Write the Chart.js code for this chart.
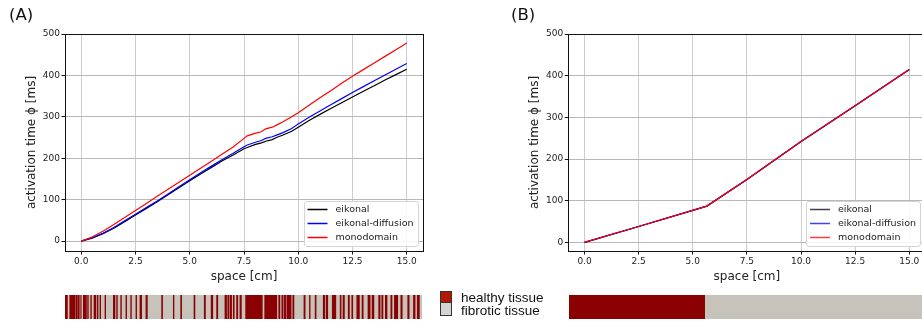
<!DOCTYPE html>
<html>
<head>
<meta charset="utf-8">
<script src="https://cdn.jsdelivr.net/npm/chart.js@4.4.0/dist/chart.umd.min.js"></script>
<style>
  html, body { margin: 0; padding: 0; background: #fff; overflow: hidden; }
  #wrap { position: relative; width: 922px; height: 324px; overflow: hidden; font-family: 'DejaVu Sans', sans-serif; }
  canvas { position: absolute; }
  .panel { position: absolute; top: 5px; font-size: 16.5px; color: #111; }
  .tl { position: absolute; font-family: 'Liberation Sans', Arial, sans-serif; font-size: 13.5px; color: #111; line-height: 13px; }
  .sq { position: absolute; left: 440px; width: 10px; border: 1px solid #333; }
</style>
</head>
<body>
<div id="wrap">
  <canvas id="chartA" width="460" height="290" style="left:0;top:0"></canvas>
  <canvas id="chartB" width="500" height="290" style="left:460px;top:0"></canvas>
  <canvas id="tissueA" width="460" height="36" style="left:0;top:288px"></canvas>
  <canvas id="tissueB" width="500" height="36" style="left:460px;top:288px"></canvas>

  <div class="panel" style="left:9px">(A)</div>
  <div class="panel" style="left:511px">(B)</div>

  <div class="sq" style="top:291px;height:10px;background:#b41800"></div>
  <div class="sq" style="top:302px;height:12px;background:#d4d4d4"></div>
  <div class="tl" style="left:461px;top:291px">healthy tissue</div>
  <div class="tl" style="left:461px;top:304px">fibrotic tissue</div>
</div>

<script>
// (A) fibrotic patchy tissue
const spaceA = [0, 0.5, 1, 1.5, 2, 2.5, 3, 3.5, 4, 4.5, 5, 5.5, 6, 6.5, 7, 7.5, 7.65, 8, 8.3, 8.5, 8.8, 9, 9.3, 9.7,
                10, 10.5, 11, 11.5, 12, 12.5, 13, 13.5, 14, 14.5, 15];
const eikonalA = [0, 7, 18, 31, 47, 63, 79, 95, 112, 129, 146, 162, 178, 194, 208, 223, 226, 233, 237, 241, 245, 250, 256, 265,
                  275, 291, 306, 320, 334, 348, 362, 375, 389, 402, 415];
const diffusionA = [0, 8, 19, 33, 49, 65, 81, 97, 114, 131, 148, 165, 181, 197, 212, 228, 232, 238, 243, 248, 252, 256, 262, 272,
                    283, 299, 314, 329, 344, 359, 373, 387, 401, 415, 429];
const monodomainA = [0, 10, 24, 40, 57, 74, 91, 108, 125, 142, 159, 176, 193, 210, 227, 248, 254, 260, 264, 271, 275, 280, 288, 300,
                     310, 328, 346, 363, 381, 398, 414, 430, 446, 462, 478];

// (B) healthy block followed by fibrotic block
const spaceB = [0, 2.5, 5.65, 7.5, 10, 12.5, 15];
const eikonalB = [0, 38, 87, 151, 242, 328, 415];
const diffusionB = [0, 38, 87, 151, 242, 328, 415];
const monodomainB = [0, 38, 87, 151, 242, 328, 415];

const seriesNames = ['eikonal', 'eikonal-diffusion', 'monodomain'];
const xTicks = [0, 2.5, 5, 7.5, 10, 12.5, 15];
const yTicks = [0, 100, 200, 300, 400, 500];

// healthy tissue segments [start, end] in cm; the rest is fibrotic
const tissueLength = 15;
const healthyA = [
  [0.01, 0.10], [0.20, 0.43], [0.47, 0.52], [0.56, 0.60], [0.66, 0.68], [0.77, 0.90], [0.95, 0.98], [1.08, 1.11],
  [1.22, 1.30], [1.36, 1.39], [1.47, 1.50], [1.68, 1.71], [2.03, 2.10], [2.17, 2.20], [2.34, 2.37], [2.56, 2.59],
  [2.76, 2.79], [2.98, 3.01], [3.15, 3.22], [3.40, 3.46], [4.06, 4.10], [4.55, 4.58], [4.86, 4.90], [5.42, 5.46],
  [5.85, 5.90], [6.14, 6.21], [6.37, 6.42], [6.72, 6.79], [6.84, 6.88], [6.93, 7.00], [7.07, 7.11], [7.21, 7.26],
  [7.35, 7.41], [7.59, 8.29], [8.39, 8.90], [8.98, 9.03], [9.11, 9.15], [9.20, 9.27], [9.32, 9.50], [9.57, 9.62],
  [10.04, 10.09], [10.27, 10.30], [10.51, 10.55], [10.85, 10.91], [10.97, 11.04], [11.23, 11.38], [11.56, 11.60],
  [11.68, 11.74], [11.90, 11.95], [12.05, 12.09], [12.26, 12.37], [12.48, 12.53], [12.73, 12.82], [12.90, 12.98],
  [13.18, 13.24], [13.31, 13.36], [13.46, 13.53], [13.69, 13.74], [13.84, 13.98], [14.11, 14.17], [14.40, 14.46],
  [14.64, 14.71], [14.80, 14.89]
];
const healthyB = [[0, 5.7]];

Chart.defaults.font.family = "'DejaVu Sans', sans-serif";
Chart.defaults.color = '#222';

// black box round the plot area, like the matplotlib spines
const frame = {
  id: 'frame',
  afterDraw(chart) {
    const a = chart.chartArea;
    const ctx = chart.ctx;
    ctx.save();
    ctx.strokeStyle = '#111';
    ctx.lineWidth = 1;
    ctx.strokeRect(Math.round(a.left) + 0.5, Math.round(a.top) + 0.5,
                   Math.round(a.right - a.left), Math.round(a.bottom - a.top));
    ctx.restore();
  }
};

// legend drawn inside the plot area, lower right
const innerLegend = {
  id: 'innerLegend',
  afterDraw(chart, args, opts) {
    const a = chart.chartArea;
    const ctx = chart.ctx;
    const w = 114, h = 45;
    const left = a.right - 5.5 - w;
    const top = a.bottom - 5 - h;
    ctx.save();
    ctx.fillStyle = 'rgba(255,255,255,0.85)';
    ctx.strokeStyle = '#d4d4d4';
    ctx.lineWidth = 1;
    ctx.beginPath();
    ctx.roundRect(Math.round(left) + 0.5, Math.round(top) + 0.5, w, h, 2.5);
    ctx.fill();
    ctx.stroke();
    ctx.font = "9.5px 'DejaVu Sans'";
    ctx.textBaseline = 'middle';
    chart.data.datasets.forEach((ds, i) => {
      const y = Math.round(top) + 8.5 + i * 14;
      ctx.globalAlpha = opts.swatchAlpha || 1;
      ctx.strokeStyle = ds.borderColor;
      ctx.lineWidth = 1.5;
      ctx.beginPath();
      ctx.moveTo(left + 4, y);
      ctx.lineTo(left + 24, y);
      ctx.stroke();
      ctx.globalAlpha = 1;
      ctx.fillStyle = '#222';
      ctx.fillText(ds.label, left + 32, y + 0.5);
    });
    ctx.restore();
  }
};

function points(xs, ys) {
  return xs.map((x, i) => ({ x: x, y: ys[i] }));
}

function plotActivation(id, xs, series, yMin, yAxisWidth, yTitlePad, rightPad, swatchAlpha) {
  const colors = ['#000000', '#0000ff', '#ff0000'];
  new Chart(document.getElementById(id), {
    type: 'line',
    data: {
      datasets: series.map((ys, i) => ({
        label: seriesNames[i],
        data: points(xs, ys),
        borderColor: colors[i],
        borderWidth: 1.2,
        pointRadius: 0,
        tension: 0,
        order: 2 - i
      }))
    },
    options: {
      responsive: false,
      animation: false,
      layout: { padding: { left: 0, top: 34, right: rightPad, bottom: 0 } },
      plugins: {
        legend: { display: false },
        tooltip: { enabled: false },
        innerLegend: { swatchAlpha: swatchAlpha }
      },
      scales: {
        x: {
          type: 'linear', min: -0.75, max: 15.75,
          afterBuildTicks: s => { s.ticks = xTicks.map(v => ({ value: v })); },
          afterFit: s => { s.height = 39; },
          grid: { color: '#cdcdcd', lineWidth: 1, tickColor: '#111', tickLength: 3.5 },
          border: { display: false },
          ticks: { font: { size: 9 }, padding: 1.5, maxRotation: 0, callback: v => v.toFixed(1) },
          title: { display: true, text: 'space [cm]', font: { size: 12 }, padding: { top: 0, bottom: 6 } }
        },
        y: {
          min: yMin, max: 500,
          afterBuildTicks: s => { s.ticks = yTicks.map(v => ({ value: v })); },
          afterFit: s => { s.width = yAxisWidth; },
          grid: { color: '#b8b8b8', lineWidth: 1, tickColor: '#111', tickLength: 3.5 },
          border: { display: false },
          ticks: { font: { size: 9 }, padding: 1.5 },
          title: { display: true, text: 'activation time ϕ [ms]', font: { size: 12 }, padding: { top: yTitlePad, bottom: 0 } }
        }
      }
    },
    plugins: [frame, innerLegend]
  });
}

function plotTissue(id, healthy, leftPad, rightPad) {
  new Chart(document.getElementById(id), {
    type: 'bar',
    data: {
      labels: ['tissue'],
      datasets: [
        { data: [{ x: [0, tissueLength], y: 'tissue' }], backgroundColor: '#c6c3bb', order: 1 },
        { data: healthy.map(s => ({ x: s, y: 'tissue' })), backgroundColor: '#8b0000', order: 0 }
      ]
    },
    options: {
      indexAxis: 'y',
      responsive: false,
      animation: false,
      datasets: { bar: { grouped: false, barThickness: 24, borderWidth: 0 } },
      layout: { padding: { left: leftPad, right: rightPad, top: 7, bottom: 5 } },
      plugins: { legend: { display: false }, tooltip: { enabled: false } },
      scales: {
        x: { type: 'linear', min: 0, max: tissueLength, display: false },
        y: { display: false }
      }
    }
  });
}

plotActivation('chartA', spaceA, [eikonalA, diffusionA, monodomainA], -23.9, 65, 24.8, 37, 1);
plotActivation('chartB', spaceB, [eikonalB, diffusionB, monodomainB], -20.75, 108.3, 67.8, 34.5, 0.75);
plotTissue('tissueA', healthyA, 65, 38);
plotTissue('tissueB', healthyB, 109, 34);
</script>
</body>
</html>
